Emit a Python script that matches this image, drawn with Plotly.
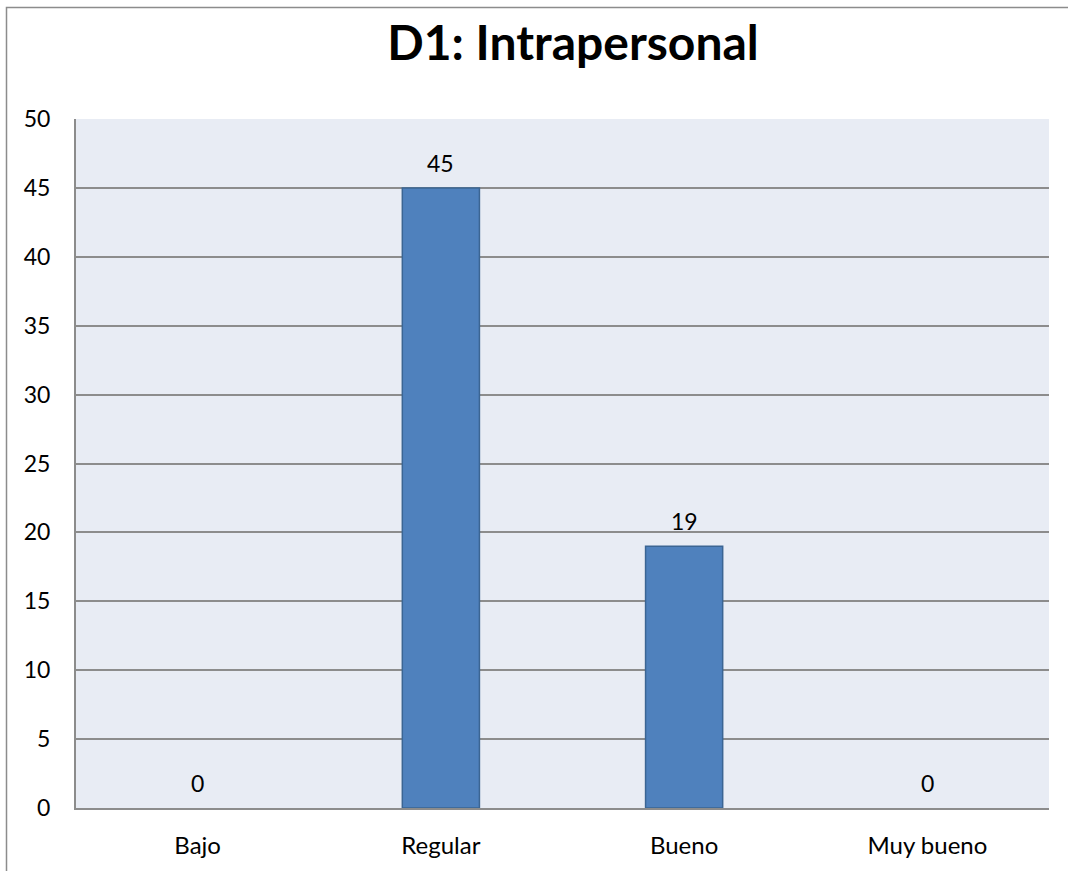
import plotly.graph_objects as go

categories = ["Bajo", "Regular", "Bueno", "Muy bueno"]
values = [0, 45, 19, 0]
y_ticks = [0, 5, 10, 15, 20, 25, 30, 35, 40, 45, 50]

W, H = 1068, 871
ml, mr, mt, mb = 76, 19, 119, 63
pw = W - ml - mr
ph = H - mt - mb
FONT = "Lato, Open Sans, sans-serif"

fig = go.Figure()
fig.add_trace(go.Bar(
    x=categories, y=values,
    width=0.317,
    marker=dict(color="#4F81BD",
                line=dict(color="#3B6593", width=[0 if v == 0 else 1.5 for v in values])),
    hoverinfo="x+y",
))

for c, v in zip(categories, values):
    fig.add_annotation(x=c, y=v, text=str(v), showarrow=False, yanchor="bottom",
                       yshift=9, font=dict(family=FONT, size=23, color="#000000"))

fig.update_layout(
    width=W, height=H,
    margin=dict(l=ml, r=mr, t=mt, b=mb, autoexpand=False),
    paper_bgcolor="white",
    plot_bgcolor="#E8ECF4",
    showlegend=False,
    title=dict(text="<b>D1: Intrapersonal</b>", x=573 / W, xanchor="center",
               y=1 - 43 / H, yanchor="middle",
               font=dict(family=FONT, size=48, color="#000000")),
    xaxis=dict(showgrid=False, showline=True, linecolor="#8C8C8C", linewidth=2,
               ticks="", tickfont=dict(family=FONT, size=24, color="#000000"),
               ticklabelstandoff=15),
    yaxis=dict(range=[0, 50], tickvals=y_ticks, showgrid=True, gridcolor="#8C8C8C", gridwidth=2,
               showline=True, linecolor="#8C8C8C", linewidth=2, zeroline=False,
               ticks="", tickfont=dict(family=FONT, size=23, color="#000000"),
               ticklabelstandoff=19),
    shapes=[dict(type="rect", xref="paper", yref="paper",
                 x0=(6.5 - ml) / pw, x1=1.2, y0=-0.3, y1=(H - mb - 7.5) / ph,
                 line=dict(color="#8C8C8C", width=1.5), fillcolor="rgba(0,0,0,0)", layer="below")],
)

fig.write_html("out.html")
